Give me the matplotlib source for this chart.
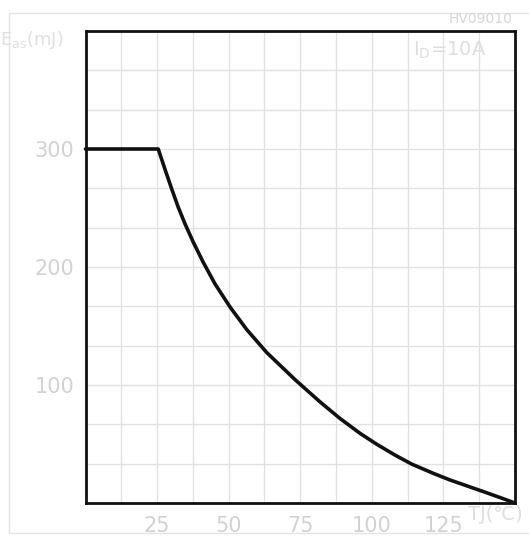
import matplotlib
matplotlib.use("Agg")
from matplotlib import pyplot as plt
from matplotlib.patches import Rectangle

# junction temperature (C) and avalanche energy (mJ)
temp = [0, 25.4, 27.8, 30.1, 32.4, 34.75, 37.65, 41.1, 45.2, 50.5, 56.3, 63.3,
        73.2, 81.9, 88.9, 95.9, 101.7, 108.1, 113.9, 121.5, 127.3, 133.1,
        139.5, 144.8, 150]
energy = [300, 300, 282.5, 266.2, 250.6, 236.6, 221.0, 204.1, 185.8, 166.0,
          147.0, 127.5, 104.5, 85.7, 71.6, 59.0, 49.8, 40.6, 33.0, 25.1, 19.5,
          14.6, 9.2, 4.6, 0]

x_ticks = [25, 50, 75, 100, 125]
y_ticks = [100, 200, 300]

TXT = "#d2d2d2"
GRID = "#e2e2e2"

fig = plt.figure(figsize=(5.29, 5.37), dpi=100)

# light outer frame of the drawing
fig.patches.append(Rectangle((9 / 529, 4 / 537), 530 / 529, 520 / 537,
                             transform=fig.transFigure, fill=False,
                             edgecolor="#e4e4e4", linewidth=1))

ax = fig.add_axes([85.5 / 529, 34 / 537, 429.5 / 529, 472 / 537])
ax.set_xlim(0, 150)
ax.set_ylim(0, 400)

# 12 x 12 grid
for i in range(1, 12):
    ax.axvline(i * 12.5, color=GRID, linewidth=1, zorder=0)
    ax.axhline(i * 400 / 12, color=GRID, linewidth=1, zorder=0)

ax.set_xticks(x_ticks)
ax.set_yticks(y_ticks)
ax.set_xticklabels([str(v) for v in x_ticks])
ax.set_yticklabels([str(v) for v in y_ticks])
ax.tick_params(length=0)
ax.tick_params(axis="x", pad=9, labelsize=15, labelcolor=TXT)
ax.tick_params(axis="y", pad=8, labelsize=15, labelcolor=TXT)

for s in ax.spines.values():
    s.set_linewidth(2)
    s.set_color("#111111")

ax.plot(temp, energy, color="#111111", linewidth=2.6, solid_joinstyle="round",
        solid_capstyle="round", clip_on=False)

fig.text(0 / 529, 1 - 40 / 537, r"E$_{\mathrm{as}}$(mJ)", fontsize=13,
         color="#e0e0e0", va="center", ha="left")
fig.text(512 / 529, 1 - 19 / 537, "HV09010", fontsize=10, color="#d6d6d6",
         va="center", ha="right")
fig.text(413 / 529, 1 - 50 / 537, r"I$_{\mathrm{D}}$=10A", fontsize=14,
         color="#dedede", va="center", ha="left")
fig.text(468 / 529, 1 - 515 / 537, "TJ(℃)", fontsize=14, color="#dedede",
         va="center", ha="left")

fig.savefig("out.png", dpi=100)
